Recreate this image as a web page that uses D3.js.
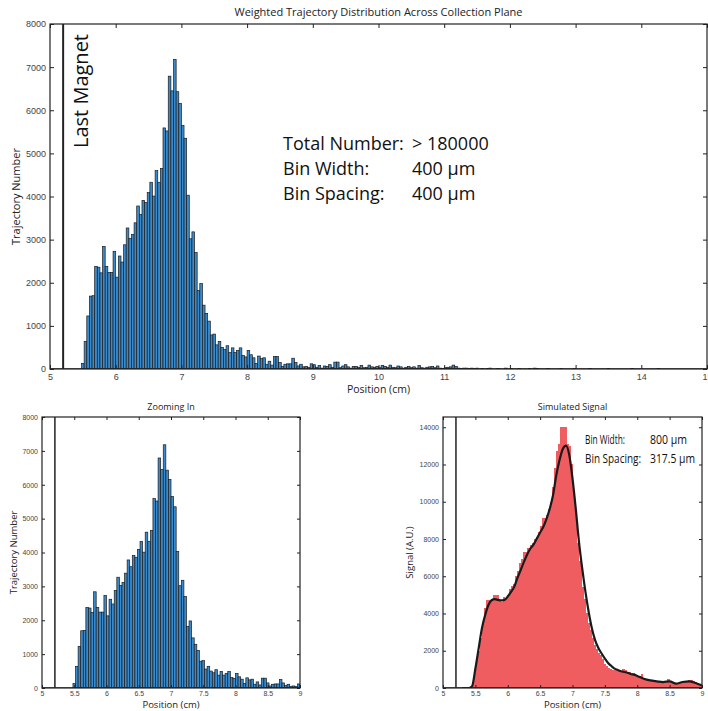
<!DOCTYPE html>
<html>
<head>
<meta charset="utf-8">
<script src="https://cdn.jsdelivr.net/npm/d3@7"></script>
<style>
  html, body { margin: 0; padding: 0; background: #fff; }
  svg { display: block; font-family: "Open Sans", "Noto Sans", sans-serif; }
  .tick text { fill: #444; }
</style>
</head>
<body>
<svg id="chart" width="708" height="711"></svg>
<script>
// Trajectory histogram: 400 µm bins, first bin centred at 5.50 cm
const binStart = 5.50;
const binWidth = 0.04;
const trajectoryCounts = [
  130, 640, 1230, 1690, 1700, 2380, 2360, 2230, 2840, 2380,
  2240, 2240, 2730, 2130, 2620, 2480, 2880, 3270, 3030, 3120,
  3390, 3780, 3580, 3910, 3860, 4090, 4330, 4010, 4600, 4330,
  4650, 5590, 5520, 6790, 6450, 7180, 6430, 6160, 5650, 5350,
  4030, 3020, 3180, 2700, 1820, 1980, 1480, 1290, 1110, 790,
  810, 560, 640, 500, 450, 540, 380, 490, 380, 430,
  490, 310, 280, 430, 330, 260, 130, 300, 240, 260,
  110, 180, 90, 290, 290, 150, 60, 110, 120, 120,
  250, 150, 70, 110, 50, 60, 40, 120,
  // 9.02 cm onward
  100, 40, 80, 20, 70, 60, 100, 40, 160, 160,
  30, 70, 100, 50, 20, 60, 60, 40, 80, 30,
  40, 90, 50, 40, 60, 30, 80, 60, 40, 90,
  40, 30, 70, 50, 20, 40, 60, 30, 50, 20,
  80, 30, 20, 40, 50, 60, 30, 70, 20, 10,
  30, 40, 50, 90, 60, 20, 10, 20, 20, 10,
  20, 10,
  // 11.50 cm onward
  20, 0, 10, 0, 10, 20, 0, 0, 10, 0,
  0, 20, 0, 10, 0, 0, 10, 0, 0, 0,
  10, 0, 20, 10, 0, 0, 0, 10, 0, 0,
  0, 0, 10, 0, 0, 0, 0, 10, 0, 0,
  0, 0, 0, 10, 0, 0, 0, 0, 0, 0,
  10, 0, 0, 0, 0, 0, 0, 0, 0, 10,
  0, 0, 0, 0, 0, 0, 0, 0, 0, 10,
  0, 0, 0, 0, 0, 0
];

// Simulated signal: 800 µm wide bins stepped every 317.5 µm
const signalStart = 5.40;
const signalSpacing = 0.03175;
const signalBins = [
  0, 60, 300, 1000, 1500, 2000, 2700, 3500, 4300, 4750,
  4750, 4750, 5000, 5000, 5000, 4700, 4600, 4900, 4800, 5000,
  5300, 5500, 5600, 6000, 6300, 6700, 6900, 7300, 7300, 7500,
  7700, 7800, 8000, 8100, 8400, 8700, 9150, 9150, 9300, 9600,
  10000, 10800, 11800, 12700, 13100, 14000, 14000, 14000, 13100, 13000,
  12000, 10500, 9500, 7800, 6800, 5400, 4800, 4000, 3500, 3100,
  2700, 2300, 2100, 1900, 1750, 1550, 1300, 1200, 1100, 1000,
  950, 950, 950, 900, 900, 1000, 950, 800, 850, 750,
  800, 700, 650, 650, 750, 550, 500, 500, 450, 450,
  400, 350, 400, 300, 350, 400, 400, 500, 400, 300,
  250, 200, 250, 300, 350, 300, 350, 450, 450, 350,
  300, 200, 150, 100
];

// Smoothed signal curve (position in cm, signal in A.U.)
const curvePos = [
  5.30, 5.40, 5.45, 5.50, 5.55, 5.60, 5.65, 5.70, 5.75, 5.80, 5.85, 5.90, 5.95,
  6.00, 6.05, 6.10, 6.15, 6.20, 6.25, 6.30, 6.35, 6.40, 6.45, 6.50, 6.55,
  6.60, 6.65, 6.70, 6.75, 6.80, 6.85, 6.90, 6.95, 7.00, 7.05, 7.10, 7.15,
  7.20, 7.25, 7.30, 7.35, 7.40, 7.45, 7.50, 7.55, 7.60, 7.65, 7.70, 7.75,
  7.80, 7.85, 7.90, 7.95, 8.00, 8.10, 8.20, 8.30, 8.40, 8.50, 8.60, 8.70,
  8.80, 8.90, 9.00
];
const curveVal = [
  0, 0, 100, 1040, 2110, 3190, 3900, 4440, 4710, 4770, 4730, 4700, 4730,
  4910, 5160, 5430, 5910, 6330, 6770, 7170, 7490, 7710, 8030, 8350, 8660,
  9100, 9640, 10360, 11430, 12240, 12830, 13010, 12510, 11250, 9640, 7850, 6420,
  5160, 4080, 3190, 2560, 2150, 1850, 1580, 1340, 1180, 1040, 970, 900,
  860, 820, 750, 720, 650, 500, 410, 360, 320, 360, 230, 320,
  360, 270, 140
];

const lastMagnet = 5.2;

const topXTicks = [5, 6, 7, 8, 9, 10, 11, 12, 13, 14, 15];
const topYTicks = [0, 1000, 2000, 3000, 4000, 5000, 6000, 7000, 8000];
const zoomXTicks = [5, 5.5, 6, 6.5, 7, 7.5, 8, 8.5, 9];
const signalYTicks = [0, 2000, 4000, 6000, 8000, 10000, 12000, 14000];

const BLUE = "#3a8bcd";
const RED = "#ef5d61";

const svg = d3.select("#chart");

const histData = trajectoryCounts.map((v, i) => ({ x: binStart + i * binWidth, v }));
const sigData = signalBins.map((v, i) => ({ x: signalStart + i * signalSpacing, v }));

let clipId = 0;

function panel(opts) {
  const { left, right, top, bottom, xDomain, yDomain, xTicks, yTicks,
          tickLen, tickFont, tickPad, title, titleFont, titleY, xLabel, xLabelY, xLabelFont,
          yLabel, yLabelX, yLabelFont } = opts;
  const x = d3.scaleLinear().domain(xDomain).range([left, right]);
  const y = d3.scaleLinear().domain(yDomain).range([bottom, top]);
  const g = svg.append("g");
  const id = "clip" + (clipId++);
  svg.append("clipPath").attr("id", id)
    .append("rect").attr("x", left).attr("y", top)
    .attr("width", right - left).attr("height", bottom - top);
  const plot = g.append("g").attr("clip-path", `url(#${id})`);

  // bottom axis with inward ticks
  const xa = g.append("g").attr("transform", `translate(0,${bottom})`)
    .call(d3.axisBottom(x).tickValues(xTicks).tickSizeInner(-tickLen).tickSizeOuter(0)
      .tickPadding(tickPad).tickFormat(d3.format("")));
  xa.select(".domain").remove();
  xa.selectAll("line").attr("stroke", "#222");
  xa.selectAll("text").attr("font-size", tickFont);
  // top mirror ticks
  const xt = g.append("g").attr("transform", `translate(0,${top})`)
    .call(d3.axisTop(x).tickValues(xTicks).tickSizeInner(-tickLen).tickSizeOuter(0).tickFormat(""));
  xt.select(".domain").remove();
  xt.selectAll("line").attr("stroke", "#222");

  const ya = g.append("g").attr("transform", `translate(${left},0)`)
    .call(d3.axisLeft(y).tickValues(yTicks).tickSizeInner(-tickLen).tickSizeOuter(0)
      .tickPadding(4).tickFormat(d3.format("d")));
  ya.select(".domain").remove();
  ya.selectAll("line").attr("stroke", "#222");
  ya.selectAll("text").attr("font-size", tickFont);
  const yr = g.append("g").attr("transform", `translate(${right},0)`)
    .call(d3.axisRight(y).tickValues(yTicks).tickSizeInner(-tickLen).tickSizeOuter(0).tickFormat(""));
  yr.select(".domain").remove();
  yr.selectAll("line").attr("stroke", "#222");

  g.append("text").attr("x", (left + right) / 2).attr("y", titleY)
    .attr("text-anchor", "middle").attr("font-size", titleFont).attr("fill", "#222").text(title);
  g.append("text").attr("x", (left + right) / 2).attr("y", xLabelY)
    .attr("text-anchor", "middle").attr("font-size", xLabelFont).attr("fill", "#222").text(xLabel);
  g.append("text")
    .attr("transform", `translate(${yLabelX},${(top + bottom) / 2}) rotate(-90)`)
    .attr("text-anchor", "middle").attr("font-size", yLabelFont).attr("fill", "#222").text(yLabel);

  return { x, y, g, plot, left, right, top, bottom };
}

function frame(p) {
  p.g.append("rect").attr("x", p.left).attr("y", p.top)
    .attr("width", p.right - p.left).attr("height", p.bottom - p.top)
    .attr("fill", "none").attr("stroke", "#222").attr("stroke-width", 1.2);
}

function magnetLine(p, w) {
  p.plot.append("line")
    .attr("x1", p.x(lastMagnet)).attr("x2", p.x(lastMagnet))
    .attr("y1", p.top).attr("y2", p.bottom)
    .attr("stroke", "#222").attr("stroke-width", w);
}

function baseline(p) {
  p.plot.append("line")
    .attr("x1", p.left).attr("x2", p.right)
    .attr("y1", p.y(0)).attr("y2", p.y(0))
    .attr("stroke", "#222").attr("stroke-width", 1.5);
}

function histBars(p) {
  p.plot.selectAll("rect.bar").data(histData.filter(d => d.v > 0)).join("rect")
    .attr("class", "bar")
    .attr("x", d => p.x(d.x - binWidth / 2))
    .attr("width", d => p.x(d.x + binWidth / 2) - p.x(d.x - binWidth / 2))
    .attr("y", d => p.y(d.v))
    .attr("height", d => p.y(0) - p.y(d.v))
    .attr("fill", BLUE).attr("stroke", "#1c1c1c").attr("stroke-width", 0.7);
  baseline(p);
}

// ---- Top panel: full distribution ----
const topP = panel({
  left: 50, right: 707, top: 24, bottom: 369,
  xDomain: [5, 15], yDomain: [0, 8000],
  xTicks: topXTicks, yTicks: topYTicks, tickLen: 4, tickFont: 9, tickPad: 4.5,
  title: "Weighted Trajectory Distribution Across Collection Plane", titleFont: 11, titleY: 16,
  xLabel: "Position (cm)", xLabelY: 393, xLabelFont: 10.5,
  yLabel: "Trajectory Number", yLabelX: 20, yLabelFont: 11
});
histBars(topP);
magnetLine(topP, 2);
frame(topP);
topP.g.append("text")
  .attr("transform", `translate(${topP.x(lastMagnet) + 25},${topP.top + 67}) rotate(-90)`)
  .attr("text-anchor", "middle").attr("font-size", 20).attr("fill", "#111").text("Last Magnet");

const topNotes = [["Total Number:", "> 180000"], ["Bin Width:", "400 µm"], ["Bin Spacing:", "400 µm"]];
topNotes.forEach((n, i) => {
  topP.g.append("text").attr("x", 283).attr("y", 150 + i * 25)
    .attr("font-size", 18).attr("fill", "#111").text(n[0]);
  topP.g.append("text").attr("x", 412).attr("y", 150 + i * 25)
    .attr("font-size", 18).attr("fill", "#111").text(n[1]);
});

// ---- Bottom-left panel: zoomed distribution ----
const zoomP = panel({
  left: 42, right: 300, top: 417, bottom: 688,
  xDomain: [5, 9], yDomain: [0, 8000],
  xTicks: zoomXTicks, yTicks: topYTicks, tickLen: 3, tickFont: 7, tickPad: 3,
  title: "Zooming In", titleFont: 9, titleY: 410,
  xLabel: "Position (cm)", xLabelY: 708, xLabelFont: 9.5,
  yLabel: "Trajectory Number", yLabelX: 17, yLabelFont: 9.5
});
histBars(zoomP);
magnetLine(zoomP, 1.5);
frame(zoomP);

// ---- Bottom-right panel: simulated signal ----
const sigP = panel({
  left: 443, right: 702, top: 417, bottom: 688,
  xDomain: [5, 9], yDomain: [0, 14550],
  xTicks: zoomXTicks, yTicks: signalYTicks, tickLen: 3, tickFont: 7, tickPad: 3,
  title: "Simulated Signal", titleFont: 9, titleY: 410,
  xLabel: "Position (cm)", xLabelY: 708, xLabelFont: 9.5,
  yLabel: "Signal (A.U.)", yLabelX: 413, yLabelFont: 9.5
});
sigP.plot.selectAll("rect.sig").data(sigData.filter(d => d.v > 0)).join("rect")
  .attr("class", "sig")
  .attr("x", d => sigP.x(d.x - signalSpacing / 2))
  .attr("width", d => sigP.x(d.x + signalSpacing / 2) - sigP.x(d.x - signalSpacing / 2) + 0.6)
  .attr("y", d => sigP.y(d.v))
  .attr("height", d => sigP.y(0) - sigP.y(d.v))
  .attr("fill", RED)
  .attr("shape-rendering", "crispEdges");
baseline(sigP);
const curve = d3.line().x((d, i) => sigP.x(curvePos[i])).y(d => sigP.y(d)).curve(d3.curveMonotoneX);
sigP.plot.append("path").attr("d", curve(curveVal))
  .attr("fill", "none").attr("stroke", "#1a1a1a").attr("stroke-width", 2.2);
magnetLine(sigP, 1.5);
frame(sigP);

// annotation text sized to the panel's narrow label column
const sigNotes = [
  { label: "Bin Width:", lw: 40, value: "800 µm", vw: 37 },
  { label: "Bin Spacing:", lw: 56, value: "317.5 µm", vw: 45 }
];
sigNotes.forEach((n, i) => {
  sigP.g.append("text").attr("x", 585).attr("y", 444 + i * 18.5)
    .attr("font-size", 12).attr("fill", "#111")
    .attr("textLength", n.lw).attr("lengthAdjust", "spacingAndGlyphs").text(n.label);
  sigP.g.append("text").attr("x", 650).attr("y", 444 + i * 18.5)
    .attr("font-size", 12).attr("fill", "#111")
    .attr("textLength", n.vw).attr("lengthAdjust", "spacingAndGlyphs").text(n.value);
});
</script>
</body>
</html>
